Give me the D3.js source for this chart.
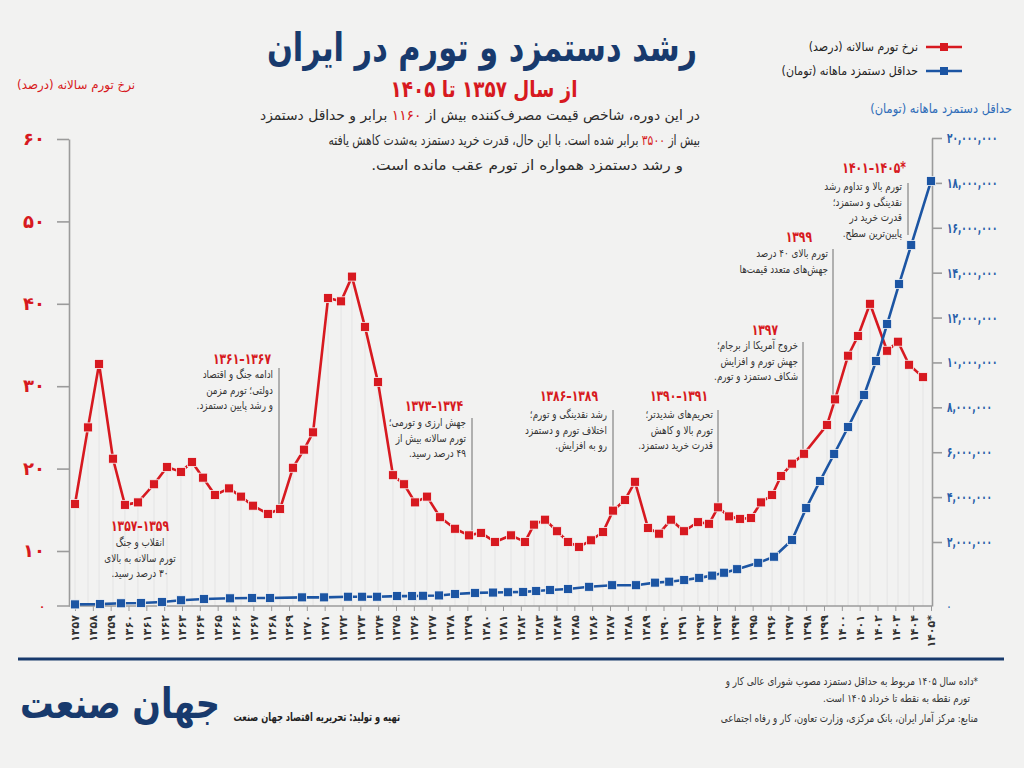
<!DOCTYPE html>
<html lang="fa">
<head>
<meta charset="utf-8">
<script src="https://cdn.jsdelivr.net/npm/d3@7"></script>
<style>
html, body { margin: 0; padding: 0; background: #f2f2f1; }
svg { display: block; font-family: "DejaVu Sans", sans-serif; }
text { white-space: pre; }
</style>
</head>
<body>
<svg id="chart" width="1024" height="768"></svg>
<script>
// x axis: one tick per year
const years = d3.range(1357, 1406);
const starYear = 1405;

// annual inflation (percent) - position on the time axis and value
const inflationT = [1357.00, 1357.73, 1358.35, 1359.13, 1359.80, 1360.53, 1361.43, 1362.16, 1362.94, 1363.56,
    1364.18, 1364.85, 1365.64, 1366.31, 1366.98, 1367.82, 1368.50, 1369.22, 1369.84, 1370.35,
    1371.19, 1371.92, 1372.53, 1373.26, 1373.99, 1374.83, 1375.45, 1376.07, 1376.74, 1377.47,
    1378.31, 1379.09, 1379.77, 1380.55, 1381.45, 1382.23, 1382.74, 1383.36, 1384.03, 1384.65,
    1385.26, 1385.94, 1386.61, 1387.17, 1387.84, 1388.40, 1389.13, 1389.75, 1390.42, 1391.15,
    1391.93, 1392.55, 1393.06, 1393.67, 1394.29, 1394.91, 1395.47, 1396.09, 1396.59, 1397.21,
    1397.88, 1399.17, 1399.62, 1400.35, 1400.91, 1401.58, 1402.54, 1403.15, 1403.77, 1404.55];
const inflation = [15.7, 25.0, 32.7, 21.2, 15.6, 15.9, 18.1, 20.2, 19.6, 20.8,
    18.9, 16.8, 17.6, 16.6, 15.5, 14.5, 15.1, 20.1, 22.3, 24.4,
    40.7, 40.3, 43.3, 37.2, 30.5, 19.2, 18.1, 15.9, 16.6, 14.1,
    12.7, 11.9, 12.2, 11.1, 11.9, 11.1, 13.2, 13.8, 12.4, 11.1,
    10.5, 11.3, 12.3, 14.9, 16.2, 18.4, 12.8, 12.1, 13.8, 12.4,
    13.5, 13.3, 15.3, 14.2, 13.9, 14.0, 15.9, 16.8, 19.1, 20.6,
    21.8, 25.3, 28.4, 33.7, 36.1, 40.0, 34.3, 35.4, 32.6, 31.1];

// monthly minimum wage (toman)
const wageT = [1357.00, 1358.40, 1359.58, 1360.70, 1361.88, 1362.95, 1364.23, 1365.69, 1366.93, 1367.94,
    1369.73, 1370.97, 1372.31, 1373.10, 1373.94, 1375.06, 1375.90, 1376.52, 1377.41, 1378.31,
    1379.43, 1380.44, 1381.28, 1382.13, 1382.86, 1383.64, 1384.65, 1385.83, 1387.12, 1388.46,
    1389.53, 1390.32, 1391.16, 1392.00, 1392.73, 1393.40, 1394.13, 1395.31, 1396.20, 1397.21,
    1398.00, 1398.78, 1399.57, 1400.35, 1401.25, 1401.92, 1402.54, 1403.21, 1403.89, 1405.00];
const wage = [50000, 60000, 85000, 95000, 125000, 180000, 220000, 240000, 250000, 250000,
    270000, 270000, 290000, 290000, 290000, 310000, 310000, 320000, 330000, 375000,
    410000, 420000, 430000, 440000, 470000, 500000, 530000, 600000, 650000, 650000,
    730000, 760000, 810000, 880000, 950000, 1040000, 1150000, 1350000, 1540000, 2090000,
    3510000, 4720000, 5920000, 7120000, 8550000, 10060000, 11710000, 13490000, 15230000, 18080000];

const inflationTicks = [0, 10, 20, 30, 40, 50, 60];
const wageTicks = d3.range(0, 20000001, 2000000);

// annotations: header, text lines, index of the inflation point the leader points to
const noteHeads = ['۱۳۵۷–۱۳۵۹', '۱۳۶۱–۱۳۶۷', '۱۳۷۳–۱۳۷۴', '۱۳۸۶–۱۳۸۹', '۱۳۹۰–۱۳۹۱', '۱۳۹۷', '۱۳۹۹', '۱۴۰۱–۱۴۰۵*'];
const noteLines = [
    ['انقلاب و جنگ', 'تورم سالانه به بالای', '۳۰ درصد رسید.'],
    ['ادامه جنگ و اقتصاد', 'دولتی؛ تورم مزمن', 'و رشد پایین دستمزد.'],
    ['جهش ارزی و تورمی؛', 'تورم سالانه بیش از', '۴۹ درصد رسید.'],
    ['رشد نقدینگی و تورم؛', 'اختلاف تورم و دستمزد', 'رو به افزایش.'],
    ['تحریم‌های شدیدتر؛', 'تورم بالا و کاهش', 'قدرت خرید دستمزد.'],
    ['خروج آمریکا از برجام؛', 'جهش تورم و افزایش', 'شکاف دستمزد و تورم.'],
    ['تورم بالای ۴۰ درصد', 'جهش‌های متعدد قیمت‌ها'],
    ['تورم بالا و تداوم رشد', 'نقدینگی و دستمزد؛', 'قدرت خرید در', 'پایین‌ترین سطح.']
];
const notePoint = [null, 16, 31, 43, 52, 60, 62, 68];

const red = '#d71920';
const blue = '#1c55a3';
const navy = '#183a6d';
const axisGrey = '#9b9b9b';

function fa(v) {
    return String(v).replace(/\d/g, d => '۰۱۲۳۴۵۶۷۸۹'[d]);
}

// DejaVu is wider than the original typeface: draw the text in a group narrowed by k
function label(parent, x, y, k, anchor, dir) {
    return parent.append('g')
        .attr('transform', `translate(${x},${y}) scale(${k},1)`)
        .append('text')
        .attr('direction', dir || 'rtl')
        .attr('text-anchor', anchor);
}

const svg = d3.select('#chart');

const x = d3.scaleLinear().domain([1357, 1405]).range([75, 931]);
const yL = d3.scaleLinear().domain([0, 10, 60]).range([606, 551, 139]);
const yR = d3.scaleLinear().domain([0, 2000000, 20000000]).range([606, 542, 138]);

// ---- header
label(svg, 482, 61, 0.78, 'middle')
    .style('font-size', '39px').style('font-weight', 700).attr('fill', navy)
    .text('رشد دستمزد و تورم در ایران');

label(svg, 484, 97, 0.8, 'middle')
    .style('font-size', '23px').style('font-weight', 700).attr('fill', red)
    .text('از سال ۱۳۵۷ تا ۱۴۰۵');

const desc = [
    ['در این دوره، شاخص قیمت مصرف‌کننده بیش از ', '۱۱۶۰', ' برابر و حداقل دستمزد'],
    ['بیش از ', '۳۵۰۰', ' برابر شده است. با این حال، قدرت خرید دستمزد به‌شدت کاهش یافته'],
    ['و رشد دستمزد همواره از تورم عقب مانده است.']
];
const descRight = [700, 700, 683];
const descScale = [0.99, 0.77, 1.1];
desc.forEach((parts, i) => {
    const t = label(svg, descRight[i], 120 + i * 25, descScale[i], 'start')
        .style('font-size', '14px').attr('fill', '#2b2b2b');
    parts.forEach((p, j) => {
        t.append('tspan').attr('fill', j === 1 ? red : '#2b2b2b').text(p);
    });
});

// legend
const legend = [['نرخ تورم سالانه (درصد)', red, 47], ['حداقل دستمزد ماهانه (تومان)', blue, 71]];
legend.forEach(([name, c, ly]) => {
    svg.append('line').attr('x1', 926).attr('x2', 962).attr('y1', ly).attr('y2', ly)
        .attr('stroke', c).attr('stroke-width', 2.5);
    svg.append('rect').attr('x', 940).attr('y', ly - 4).attr('width', 8).attr('height', 8).attr('fill', c);
    label(svg, 918, ly + 4, 0.88, 'start')
        .style('font-size', '12.5px').attr('fill', '#222').text(name);
});

// axis titles
label(svg, 135, 89, 0.95, 'start')
    .style('font-size', '12.5px').attr('fill', red).text('نرخ تورم سالانه (درصد)');
label(svg, 1012, 113, 0.88, 'start')
    .style('font-size', '13px').attr('fill', '#2e6cb8').text('حداقل دستمزد ماهانه (تومان)');

// ---- gridlines down from every inflation point
const grid = svg.append('g');
inflation.forEach((v, i) => {
    grid.append('line')
        .attr('x1', x(inflationT[i])).attr('x2', x(inflationT[i]))
        .attr('y1', yL(v)).attr('y2', yL(0))
        .attr('stroke', '#e4e4e4').attr('stroke-width', 1);
});

// ---- axes
const leftAxis = svg.append('g')
    .attr('transform', 'translate(69,0)')
    .call(d3.axisLeft(yL).tickValues(inflationTicks).tickSize(12).tickSizeOuter(0).tickPadding(12).tickFormat(fa));
leftAxis.select('.domain').attr('stroke', axisGrey).attr('stroke-width', 1.6);
leftAxis.selectAll('.tick line').attr('stroke', axisGrey).attr('stroke-width', 1.6);
leftAxis.selectAll('.tick text')
    .attr('fill', red).style('font-family', '"DejaVu Sans", sans-serif')
    .style('font-size', d => d === 0 ? '10px' : '18px').style('font-weight', 700);
leftAxis.selectAll('.tick').filter(d => d === 0).select('line').remove();

const wageK = 0.64;
const rightAxis = svg.append('g')
    .attr('transform', 'translate(932,0)')
    .call(d3.axisRight(yR).tickValues(wageTicks).tickSize(10).tickSizeOuter(0).tickPadding(5)
        .tickFormat(d => fa(d3.format(',')(d))));
rightAxis.select('.domain').attr('stroke', axisGrey).attr('stroke-width', 1.6);
rightAxis.selectAll('.tick line').attr('stroke', axisGrey).attr('stroke-width', 1.6);
rightAxis.selectAll('.tick text')
    .attr('fill', '#275ea9').style('font-family', '"DejaVu Sans", sans-serif')
    .style('font-size', d => d === 0 ? '10px' : '14px').style('font-weight', 700)
    .attr('x', 15 / wageK)
    .attr('transform', `scale(${wageK},1)`);
rightAxis.selectAll('.tick').filter(d => d === 0).select('line').remove();

const bottomAxis = svg.append('g')
    .attr('transform', 'translate(0,606)')
    .call(d3.axisBottom(x).tickValues(years).tickSize(5).tickSizeOuter(0)
        .tickFormat(d => fa(d) + (d === starYear ? '*' : '')));
bottomAxis.select('.domain').remove();
bottomAxis.append('line').attr('x1', 57).attr('x2', 932).attr('stroke', axisGrey).attr('stroke-width', 1.6);
bottomAxis.selectAll('.tick line').attr('stroke', axisGrey);
bottomAxis.selectAll('.tick text')
    .attr('transform', 'rotate(-90)')
    .attr('x', -9).attr('y', 0).attr('dy', '0.35em')
    .attr('text-anchor', 'end')
    .attr('fill', '#333').style('font-family', '"DejaVu Sans", sans-serif')
    .style('font-size', '11px').style('font-weight', 700);

// ---- annotations
const notes = svg.append('g');
const noteLayout = [
    {hx: 140, hy: 531, tx: 140, ty: 546, anchor: 'middle', lead: null},
    {hx: 271, hy: 364, tx: 273, ty: 378, anchor: 'start', lead: [279, 368]},
    {hx: 463, hy: 411, tx: 466, ty: 426, anchor: 'start', lead: [472, 418]},
    {hx: 598, hy: 401, tx: 607, ty: 418, anchor: 'start', lead: [613, 410]},
    {hx: 708, hy: 401, tx: 713, ty: 418, anchor: 'start', lead: [718, 410]},
    {hx: 778, hy: 335, tx: 798, ty: 349, anchor: 'start', lead: [803, 342]},
    {hx: 812, hy: 242, tx: 828, ty: 257, anchor: 'start', lead: [833, 249]},
    {hx: 906, hy: 173, tx: 902, ty: 190, anchor: 'start', lead: [908, 183, 235]}
];
noteHeads.forEach((h, i) => {
    const L = noteLayout[i];
    if (L.lead) {
        const p = notePoint[i];
        const yEnd = L.lead[2] !== undefined ? L.lead[2] : yL(inflation[p]) - 4;
        notes.append('line')
            .attr('x1', L.lead[0]).attr('x2', L.lead[0])
            .attr('y1', L.lead[1]).attr('y2', yEnd)
            .attr('stroke', '#6e6e6e').attr('stroke-width', 1);
    }
    label(notes, L.hx, L.hy, 0.72, L.anchor === 'middle' ? 'middle' : 'end', 'ltr')
        .style('font-size', '15px').style('font-weight', 700).attr('fill', red)
        .text(h);
    noteLines[i].forEach((ln, j) => {
        label(notes, L.tx, L.ty + j * 15.5, 0.8, L.anchor)
            .style('font-size', '11px').attr('fill', '#333')
            .text(ln);
    });
});

// ---- series
const redData = inflation.map((v, i) => ({t: inflationT[i], v}));
const blueData = wage.map((v, i) => ({t: wageT[i], v}));

svg.append('path')
    .datum(redData)
    .attr('fill', 'none').attr('stroke', red).attr('stroke-width', 2.6)
    .attr('stroke-linejoin', 'round')
    .attr('d', d3.line().x(d => x(d.t)).y(d => yL(d.v)));
svg.append('g').selectAll('rect')
    .data(redData).enter().append('rect')
    .attr('x', d => x(d.t) - 4.5).attr('y', d => yL(d.v) - 4.5)
    .attr('width', 9).attr('height', 9)
    .attr('fill', red).attr('stroke', '#f7f7f7').attr('stroke-width', 0.8);

svg.append('path')
    .datum(blueData)
    .attr('fill', 'none').attr('stroke', blue).attr('stroke-width', 2.6)
    .attr('stroke-linejoin', 'round')
    .attr('d', d3.line().x(d => x(d.t)).y(d => yR(d.v)));
svg.append('g').selectAll('rect')
    .data(blueData).enter().append('rect')
    .attr('x', d => x(d.t) - 4.5).attr('y', d => yR(d.v) - 4.5)
    .attr('width', 9).attr('height', 9)
    .attr('fill', blue).attr('stroke', '#f7f7f7').attr('stroke-width', 0.8);

// ---- footer
svg.append('line').attr('x1', 18).attr('x2', 1004).attr('y1', 659).attr('y2', 659)
    .attr('stroke', navy).attr('stroke-width', 3);

label(svg, 20, 718, 0.8, 'end')
    .style('font-size', '42px').style('font-weight', 700).attr('fill', navy)
    .text('جهان صنعت');

label(svg, 400, 721, 0.72, 'start')
    .style('font-size', '11.5px').style('font-weight', 700).attr('fill', '#222')
    .text('تهیه و تولید: تحریریه اقتصاد جهان صنعت');

const foot = [
    ['*داده سال ۱۴۰۵ مربوط به حداقل دستمزد مصوب شورای عالی کار و', 978, 685],
    ['تورم نقطه به نقطه تا خرداد ۱۴۰۵ است.', 970, 702],
    ['منابع: مرکز آمار ایران، بانک مرکزی، وزارت تعاون، کار و رفاه اجتماعی', 978, 722]
];
foot.forEach(([s, fx, fy]) => {
    label(svg, fx, fy, 0.8, 'start')
        .style('font-size', '11px').attr('fill', '#333').text(s);
});
</script>
</body>
</html>
